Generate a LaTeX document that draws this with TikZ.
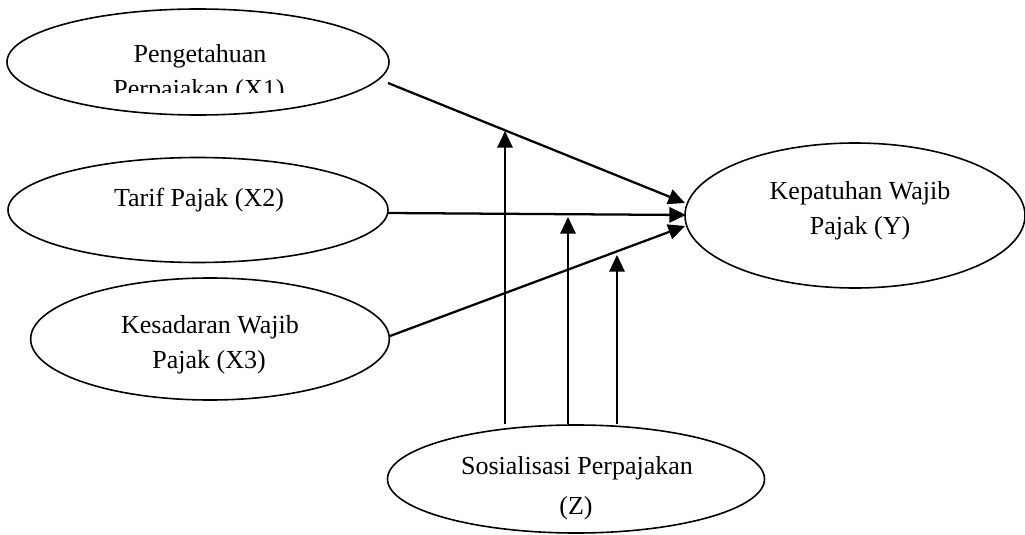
\documentclass[tikz,border=0pt]{standalone}
\usepackage{fontspec}
\setmainfont{Liberation Serif}
\usetikzlibrary{shapes.geometric,arrows.meta}
\begin{document}
\begin{tikzpicture}[x=0.75pt,y=-0.75pt,
  oval/.style={draw,ellipse,line width=1.2pt,inner sep=0pt},
  lbl/.style={font=\fontsize{19.5pt}{26pt}\selectfont,inner sep=0pt,anchor=base},
  conn/.style={line width=1.7pt,-{Triangle[length=12.5pt,width=11.5pt]}}]
\useasboundingbox (0,0) rectangle (1025,535);
% ovals
\node[oval,minimum width=286.5pt,minimum height=79.5pt] (X1) at (198,62) {};
\node[oval,minimum width=285pt,minimum height=78.75pt] (X2) at (198,210) {};
\node[oval,minimum width=269pt,minimum height=91.5pt] (X3) at (210,339) {};
\node[oval,minimum width=255pt,minimum height=108.75pt] (Y) at (855,215.5) {};
\node[oval,minimum width=282.75pt,minimum height=81pt] (Z) at (576,479) {};
% labels
\node[lbl] (t1a) at (200,63) {Pengetahuan};
\begin{scope}
\clip (0,0) rectangle (1025,93);
\node[lbl] (t1b) at (199,98) {Perpajakan (X1)};
\end{scope}
\node[lbl] (t2) at (199,206) {Tarif Pajak (X2)};
\node[lbl] (t3a) at (210,333) {Kesadaran Wajib};
\node[lbl] (t3b) at (209,368) {Pajak (X3)};
\node[lbl] (tya) at (860,199) {Kepatuhan Wajib};
\node[lbl] (tyb) at (860,234) {Pajak (Y)};
\node[lbl] (tza) at (577,474) {Sosialisasi Perpajakan};
\node[lbl] (tzb) at (576,514) {(Z)};
% connector end points
\coordinate (s1) at (388,83);
\coordinate (e1) at (685,203);
\coordinate (s2) at (388,213);
\coordinate (e2) at (686,215);
\coordinate (s3) at (390,336);
\coordinate (e3) at (685,226);
\coordinate (z1) at (505,424);
\coordinate (m1) at (505,131);
\coordinate (z2) at (568,424);
\coordinate (m2) at (568,217);
\coordinate (z3) at (617,424);
\coordinate (m3) at (617,255);
% connectors
\draw[conn] (s1) -- (e1);
\draw[conn] (s2) -- (e2);
\draw[conn] (s3) -- (e3);
\draw[conn] (z1) -- (m1);
\draw[conn] (z2) -- (m2);
\draw[conn] (z3) -- (m3);
\end{tikzpicture}
\end{document}
